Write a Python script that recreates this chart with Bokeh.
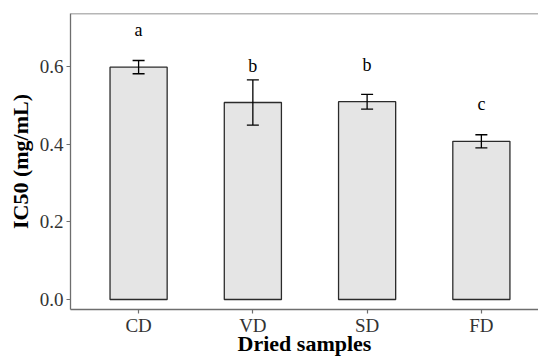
import numpy as np
from bokeh.plotting import figure
from bokeh.models import (ColumnDataSource, Whisker, TeeHead, Range1d,
                          FixedTicker, Span)
from bokeh.core.properties import value
from bokeh.embed import file_html
from bokeh.resources import INLINE

# ---- data ----
categories = ["CD", "VD", "SD", "FD"]
ic50 = [0.598, 0.507, 0.509, 0.407]
ic50_err = [0.017, 0.058, 0.019, 0.017]
letters = ["a", "b", "b", "c"]
y_ticks = [0.0, 0.2, 0.4, 0.6]
letter_offset = 0.095
x_title = "Dried samples"
y_title = "IC50 (mg/mL)"

x = list(range(len(categories)))
src = ColumnDataSource(dict(
    x=x,
    top=ic50,
    upper=[v + e for v, e in zip(ic50, ic50_err)],
    lower=[v - e for v, e in zip(ic50, ic50_err)],
    label_y=[v + letter_offset for v in ic50],
    letters=letters,
))

FONT = "Liberation Serif"
AXIS_GREY = "#6e6e6e"

p = figure(width=538, height=358, output_backend="svg", toolbar_location=None,
           x_range=Range1d(-0.596, 3.5), y_range=Range1d(-0.0257, 0.736),
           min_border_left=70, min_border_right=0, min_border_top=13,
           min_border_bottom=45)
p.outline_line_color = None
p.xgrid.visible = False
p.ygrid.visible = False
p.background_fill_color = "white"
p.border_fill_color = "white"

p.vbar(x="x", top="top", bottom=0, width=0.5, source=src,
       fill_color="#E5E5E5", line_color="#2b2b2b", line_width=1.3)

w = Whisker(base="x", upper="upper", lower="lower", source=src,
            line_color="black", line_width=1.3, level="overlay",
            upper_head=TeeHead(size=12, line_color="black", line_width=1.3),
            lower_head=TeeHead(size=12, line_color="black", line_width=1.3))
p.add_layout(w)

p.text(x="x", y="label_y", text="letters", source=src,
       text_align="center", text_baseline="middle",
       text_font=value(FONT), text_font_size="18px", text_color="black")

p.add_layout(Span(location=0.736, dimension="width",
                  line_color=AXIS_GREY, line_width=1.3))

for ax in (p.xaxis[0], p.yaxis[0]):
    ax.axis_line_color = AXIS_GREY
    ax.axis_line_width = 1.3
    ax.major_tick_line_color = AXIS_GREY
    ax.major_tick_line_width = 1.2
    ax.major_tick_out = 4
    ax.major_tick_in = 0
    ax.minor_tick_line_color = None
    ax.major_label_text_font = FONT
    ax.major_label_text_font_size = "19px"
    ax.major_label_text_color = "#333333"
    ax.axis_label_text_font = FONT
    ax.axis_label_text_font_style = "bold"
    ax.axis_label_text_font_size = "22px"
    ax.axis_label_text_color = "black"

p.xaxis.ticker = FixedTicker(ticks=x)
p.xaxis.major_label_overrides = {i: c for i, c in enumerate(categories)}
p.xaxis.major_label_standoff = 1
p.xaxis.axis_label = x_title
p.xaxis.axis_label_standoff = -8
p.xaxis.axis_label_text_line_height = 0.9
p.xaxis.major_label_text_line_height = 0.9

p.yaxis.ticker = FixedTicker(ticks=y_ticks)
p.yaxis.major_label_overrides = {t: f"{t:.1f}" for t in y_ticks}
p.yaxis.axis_label = y_title
p.yaxis.major_label_standoff = 3
p.yaxis.axis_label_standoff = 4

open("out.html", "w").write(file_html(p, INLINE))
